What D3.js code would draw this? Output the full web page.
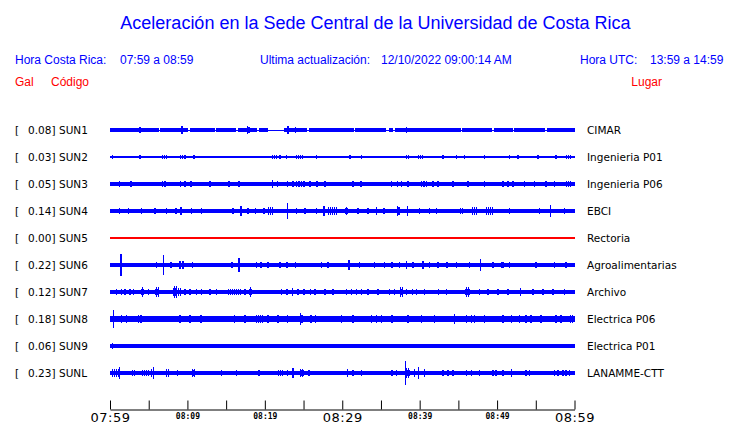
<!DOCTYPE html>
<html><head><meta charset="utf-8">
<script src="https://cdn.jsdelivr.net/npm/d3@7"></script>
<style>body{margin:0;background:#fff}svg{display:block}</style>
</head><body>
<svg id="c" width="740" height="423"></svg>
<script>
// ---------- DATA ----------
const titleText = "Aceleración en la Sede Central de la Universidad de Costa Rica";
const codes  = ["SUN1","SUN2","SUN3","SUN4","SUN5","SUN6","SUN7","SUN8","SUN9","SUNL"];
const peaks  = ["0.08","0.03","0.05","0.14","0.00","0.22","0.12","0.18","0.06","0.23"];
const places = ["CIMAR","Ingenieria P01","Ingenieria P06","EBCI","Rectoria","Agroalimentarias","Archivo","Electrica P06","Electrica P01","LANAMME-CTT"];
// background noise level (relative amplitude) per station
const baseAmp = [0.12,0.04,0.14,0.14,0.04,0.14,0.15,0.2,0.12,0.16];
// quiet intervals [startMin, endMin] (only SUN1 shows them)
const quietSUN1 = [[6.3,6.5],[10.1,10.3],[13.5,13.7],[16.3,16.5],[19.0,19.3],[20.4,22.5],[25.5,25.7],[31.5,31.7],[35.7,36.1],[36.5,36.8],[45.3,45.5],[49.3,49.6],[52.0,52.2],[56.2,56.4]];
// bursts: [minute after 07:59, relative amplitude, duration in minutes (optional)]
const sun1 = [[3.87,0.2],[7.10,0.18],[7.61,0.15],[9.33,0.32],[11.83,0.15],[17.76,0.28],[17.94,0.2],[23.01,0.28],[23.96,0.22],[27.74,0.15],[38.28,0.2],[44.30,0.18],[50.54,0.14],[55.27,0.14]];
const sun2 = [[0.30,0.12],[0.52,0.1],[1.51,0.1],[3.23,0.1],[3.87,0.12],[5.59,0.1],[6.67,0.14,0.65],[9.03,0.14,0.4],[9.68,0.12],[10.88,0.12],[11.83,0.1],[12.90,0.1],[15.91,0.1],[16.56,0.1],[17.85,0.1],[18.80,0.1],[19.48,0.1],[20.86,0.14,0.4],[21.51,0.12],[21.94,0.12],[22.80,0.12],[23.96,0.14,1.0],[25.81,0.1],[26.67,0.12],[29.68,0.1],[30.97,0.12],[32.47,0.12],[32.90,0.1],[37.20,0.1],[37.63,0.1],[38.19,0.14,0.4],[39.78,0.14,0.8],[41.72,0.1],[42.37,0.1],[43.01,0.12],[43.66,0.1],[44.52,0.14,0.3],[44.95,0.1],[45.81,0.12],[46.67,0.1],[48.39,0.12],[49.46,0.1],[50.54,0.1],[51.61,0.12],[52.04,0.1],[52.69,0.12],[53.33,0.1],[55.27,0.12],[56.99,0.1],[57.63,0.12],[58.28,0.1],[58.71,0.14,0.8]];
const sun3 = [[1.25,0.22],[2.71,0.2],[5.59,0.18],[6.75,0.22],[7.10,0.2],[9.03,0.24,0.3],[9.68,0.22],[10.45,0.2],[12.90,0.22],[14.19,0.18],[15.35,0.2],[16.22,0.18],[16.69,0.2],[18.71,0.18],[20.99,0.3,0.25],[21.63,0.2],[22.92,0.2],[23.66,0.22],[24.09,0.22],[24.39,0.24],[24.73,0.22],[25.08,0.2],[25.81,0.22],[26.75,0.2],[27.74,0.2],[29.81,0.18],[31.40,0.2],[32.39,0.2],[36.34,0.2],[37.12,0.22],[37.63,0.2],[38.49,0.2],[40.22,0.2],[40.56,0.22],[40.86,0.2],[41.72,0.26],[42.37,0.2],[44.30,0.22],[46.24,0.2],[48.39,0.22],[50.75,0.2],[51.40,0.22],[52.04,0.2],[53.55,0.2],[54.84,0.22],[56.34,0.2],[57.42,0.22],[58.71,0.2,0.9]];
const sun4 = [[1.25,0.2],[2.15,0.22,0.3],[4.09,0.2],[5.81,0.26],[7.31,0.2],[8.52,0.2],[9.16,0.28],[10.54,0.22],[11.83,0.26],[15.91,0.2],[16.90,0.42],[17.85,0.24],[18.80,0.2],[19.91,0.22],[20.43,0.3,0.5],[20.99,0.28],[22.92,0.58],[24.09,0.26],[25.16,0.22],[26.67,0.24],[27.66,0.4],[28.09,0.3,1.3],[30.32,0.34,0.4],[32.04,0.22],[33.33,0.26],[34.28,0.32,0.4],[35.40,0.22],[37.12,0.36],[37.33,0.34],[38.41,0.4],[40.0,0.2],[41.29,0.22],[42.15,0.2],[45.16,0.26,0.4],[46.67,0.3,0.7],[48.39,0.3,1.2],[51.61,0.22],[55.48,0.2],[56.90,0.46],[58.49,0.2,0.4]];
const sun5 = [];
const sun6 = [[1.42,0.88],[1.2,0.22,0.3],[6.02,0.22],[6.92,0.74],[7.87,0.2],[9.03,0.32],[9.46,0.3],[10.67,0.22],[13.89,0.16],[15.78,0.2],[16.69,0.52],[18.92,0.2],[19.48,0.2],[20.43,0.2],[21.94,0.22],[22.88,0.2],[23.96,0.2],[27.31,0.26],[28.17,0.22],[30.84,0.42],[32.26,0.22],[34.19,0.2],[35.48,0.2],[36.43,0.2],[37.42,0.22],[38.28,0.32],[39.14,0.2],[40.43,0.28],[41.29,0.2],[42.37,0.22],[43.53,0.24],[44.73,0.2],[46.45,0.2],[47.83,0.46],[49.46,0.2],[50.54,0.22],[50.75,0.2],[51.61,0.22],[55.05,0.2],[57.20,0.26,0.3],[58.92,0.24]];
const sun7 = [[0.86,0.2],[1.51,0.22],[1.94,0.2],[2.58,0.24],[3.01,0.2],[4.0,0.36,0.4],[4.95,0.2],[5.81,0.42,0.5],[6.24,0.3],[8.17,0.48,0.5],[8.60,0.3,0.6],[9.68,0.2],[10.32,0.22],[11.18,0.2],[11.83,0.22],[12.90,0.2],[13.76,0.22],[15.27,0.22,1.6],[17.42,0.24],[17.94,0.36,0.4],[18.28,0.22],[22.15,0.2],[22.88,0.26],[23.53,0.32,0.3],[24.30,0.22],[25.08,0.26],[25.89,0.22],[26.45,0.2],[27.74,0.22],[28.82,0.2],[30.32,0.24,0.4],[31.18,0.2],[31.83,0.2],[32.47,0.22],[33.33,0.2],[34.62,0.2],[36.13,0.22],[36.77,0.26],[37.51,0.42,0.4],[38.28,0.26],[38.92,0.24,0.4],[39.57,0.22],[40.65,0.2],[42.37,0.26,0.3],[43.44,0.22],[45.81,0.38,0.6],[46.45,0.24],[47.74,0.2],[48.82,0.2],[50.11,0.22],[51.40,0.2],[52.82,0.3,0.3],[54.62,0.2],[55.91,0.2],[57.20,0.24],[58.71,0.2]];
const sun8 = [[0.43,0.72],[1.51,0.28],[2.15,0.3],[3.44,0.34,0.5],[4.0,0.28],[4.95,0.26],[7.01,0.26],[9.03,0.3],[9.68,0.26],[10.32,0.28],[11.74,0.34],[15.91,0.32,0.3],[16.99,0.26],[17.42,0.3],[18.92,0.32,0.9],[20.43,0.28],[21.72,0.3],[22.92,0.28],[24.52,0.48,0.3],[24.82,0.34],[25.94,0.28],[26.54,0.3],[27.74,0.26],[29.89,0.3],[31.40,0.28],[33.76,0.3],[34.41,0.28],[35.05,0.3],[36.43,0.28],[38.49,0.32],[40.22,0.28],[41.72,0.3,0.3],[44.52,0.36],[46.02,0.3],[46.67,0.34],[47.10,0.32],[48.39,0.28],[50.75,0.3],[51.83,0.28],[52.90,0.3],[53.76,0.28],[54.41,0.28],[55.70,0.3],[57.63,0.3],[58.28,0.28],[59.35,0.3,0.4]];
const sun9 = [[0.30,0.24],[15.91,0.16],[16.34,0.14],[20.65,0.14],[25.16,0.14],[40.86,0.14]];
const sunl = [[0.22,0.28,1.0],[1.20,0.44],[2.80,0.26,0.6],[4.09,0.26,0.9],[5.38,0.3],[5.63,0.46],[7.10,0.3,0.5],[8.73,0.26],[10.54,0.34,0.4],[14.41,0.2],[16.34,0.22],[19.27,0.2],[21.51,0.26,1.0],[22.92,0.24],[23.66,0.36],[24.52,0.34,0.5],[25.68,0.24],[30.67,0.3],[31.40,0.24],[32.47,0.26],[36.43,0.22],[36.99,0.26],[38.19,0.92],[38.28,0.36,0.5],[38.58,0.4],[39.35,0.28],[39.87,0.46],[40.56,0.3,0.3],[43.01,0.22],[43.66,0.22],[44.30,0.24],[46.02,0.22],[46.67,0.24],[47.74,0.22],[49.46,0.24],[49.89,0.22],[50.75,0.22],[51.83,0.28],[53.76,0.24],[54.19,0.22],[57.42,0.22],[57.85,0.24],[58.49,0.22],[58.92,0.24],[59.35,0.22]];
const bursts = [sun1,sun2,sun3,sun4,sun5,sun6,sun7,sun8,sun9,sunl];
const quiet = [quietSUN1,[],[],[],[],[],[],[],[],[]];
const traceColors = ["#0000ff","#0000ff","#0000ff","#0000ff","#ff0000","#0000ff","#0000ff","#0000ff","#0000ff","#0000ff"];
const tickMinutes = [0,5,10,15,20,25,30,35,40,45,50,55,60];
const tickLabels = {0:"07:59",10:"08:09",20:"08:19",30:"08:29",40:"08:39",50:"08:49",60:"08:59"};
const majorTicks = [0,30,60];

// ---------- DRAW ----------
const svg = d3.select("#c");
const x = d3.scaleLinear().domain([0,60]).range([110,574.5]);
const y = d3.scalePoint().domain(codes).range([130,373]);
const a = d3.scaleLinear().domain([-1,1]).range([13,-13]);

const blue = "#0000ff", red = "#ff0000";
const hdr = "'Liberation Sans', Arial, sans-serif";
const lab = "'DejaVu Sans', Verdana, sans-serif";

// comb pattern so that extended bursts read as clusters of spikes
const defs = svg.append("defs");
const pat = defs.append("pattern").attr("id","comb").attr("patternUnits","userSpaceOnUse")
  .attr("width",2).attr("height",4);
pat.append("rect").attr("width",1).attr("height",4).attr("fill",blue);

svg.append("text").attr("x",375.5).attr("y",29).attr("text-anchor","middle")
  .style("font-family",hdr).style("font-size","18px").attr("fill",blue).text(titleText);

const h = [
  [15,"Hora Costa Rica:",blue],[120,"07:59 a 08:59",blue],
  [260,"Ultima actualización:",blue],[381,"12/10/2022 09:00:14 AM",blue],
  [580,"Hora UTC:",blue],[650,"13:59 a 14:59",blue]];
svg.selectAll("text.h").data(h).join("text").attr("class","h")
  .attr("x",d=>d[0]).attr("y",64).attr("fill",d=>d[2])
  .style("font-family",hdr).style("font-size","12px").text(d=>d[1]);
svg.append("text").attr("x",15).attr("y",86).attr("fill",red).style("font-family",hdr).style("font-size","12px").text("Gal");
svg.append("text").attr("x",51).attr("y",86).attr("fill",red).style("font-family",hdr).style("font-size","12px").text("Código");
svg.append("text").attr("x",662).attr("y",86).attr("text-anchor","end").attr("fill",red).style("font-family",hdr).style("font-size","12px").text("Lugar");

const rows = svg.selectAll("g.row").data(codes).join("g").attr("class","row")
  .attr("transform",c=>`translate(0,${y(c)})`);

rows.append("text").attr("x",15).attr("y",4).style("font-family",lab).style("font-size","10.5px").text("[");
rows.append("text").attr("x",55.5).attr("y",4).attr("text-anchor","end").style("font-family",lab).style("font-size","10.5px").text((c,i)=>peaks[i]+"]");
rows.append("text").attr("x",59).attr("y",4).style("font-family",lab).style("font-size","10.5px").text(c=>c);
rows.append("text").attr("x",587).attr("y",4).style("font-family",lab).style("font-size","10.5px").text((c,i)=>places[i]);

rows.each(function(c,i){
  const g = d3.select(this).append("g").attr("shape-rendering","crispEdges").attr("fill",traceColors[i]);
  // thin trace line
  g.append("rect").attr("x",x(0)).attr("width",x(60)-x(0)).attr("y",-0.5).attr("height",1);
  // noise band with quiet intervals removed
  const segs = [];
  let s = 0;
  quiet[i].forEach(q=>{ segs.push([s,q[0]]); s = q[1]; });
  segs.push([s,60]);
  const b = baseAmp[i];
  g.selectAll("rect.band").data(segs).join("rect").attr("class","band")
    .attr("x",d=>x(d[0])).attr("width",d=>x(d[1])-x(d[0]))
    .attr("y",a(b)).attr("height",a(-b)-a(b));
  // extended bursts: comb texture, with a denser core at ~60% amplitude
  const ext = bursts[i].filter(d=>d[2]);
  g.selectAll("rect.ext").data(ext).join("rect").attr("class","ext")
    .attr("x",d=>x(d[0])).attr("width",d=>x(d[0]+d[2])-x(d[0]))
    .attr("y",d=>a(d[1])).attr("height",d=>a(-d[1])-a(d[1])).attr("fill","url(#comb)");
  g.selectAll("rect.core").data(ext).join("rect").attr("class","core")
    .attr("x",d=>x(d[0])).attr("width",d=>x(d[0]+d[2])-x(d[0]))
    .attr("y",d=>a(Math.max(b,d[1]*0.6))).attr("height",d=>a(-Math.max(b,d[1]*0.6))-a(Math.max(b,d[1]*0.6)));
  g.selectAll("rect.burst").data(bursts[i].filter(d=>!d[2])).join("rect").attr("class","burst")
    .attr("x",d=>x(d[0])-0.75).attr("width",1.5)
    .attr("y",d=>a(d[1])).attr("height",d=>a(-d[1])-a(d[1]));
});

// time axis
const axis = d3.axisBottom(x).tickValues(tickMinutes).tickSizeInner(-9).tickSizeOuter(0)
  .tickFormat(m=>tickLabels[m]||"");
const ax = svg.append("g").attr("transform","translate(0,409.5)").call(axis);
ax.select(".domain").attr("stroke","#000");
ax.selectAll(".tick line").attr("stroke","#000");
ax.selectAll(".tick text").attr("fill","#000").attr("dy",null)
  .each(function(m){
    const t = d3.select(this);
    if (majorTicks.includes(m)) t.attr("y",12).style("font-family",lab).style("font-size","13px").style("letter-spacing","0.5px");
    else t.attr("y",9.5).style("font-family","'DejaVu Sans Mono', monospace").style("font-size","8px").style("font-weight","bold");
  });
</script>
</body></html>
